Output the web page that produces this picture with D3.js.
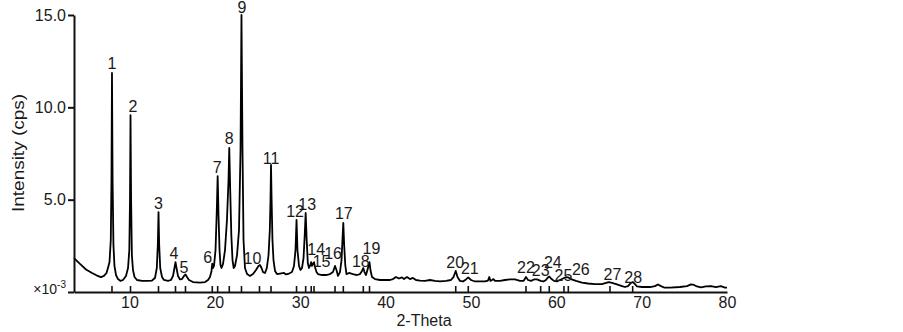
<!DOCTYPE html>
<html>
<head>
<meta charset="utf-8">
<script src="https://cdn.jsdelivr.net/npm/d3@7"></script>
<style>
body { margin: 0; background: #fff; }
text { font-family: "Liberation Sans", Arial, sans-serif; fill: #1a1a1a; }
</style>
</head>
<body>
<script>
// XRD trace: [2-theta, intensity (x1e-3 cps)]
const profile = [
  [3.50,1.84],[4.20,1.52],[4.91,1.22],[5.61,1.03],[6.19,0.89],[6.66,0.81],[7.01,0.87],[7.31,1.03],
  [7.54,1.41],[7.66,1.62],[7.81,2.82],[7.89,6.06],[7.95,11.86],[8.02,6.06],[8.12,2.55],[8.24,1.41],
  [8.42,0.92],[8.65,0.70],[8.95,0.60],[9.24,0.65],[9.59,0.87],[9.83,1.30],[9.98,2.27],[10.06,4.98],
  [10.12,9.58],[10.19,4.98],[10.28,2.00],[10.41,1.19],[10.59,0.81],[10.88,0.65],[11.47,0.60],[12.17,0.60],
  [12.64,0.62],[12.99,0.76],[13.20,1.30],[13.32,2.55],[13.40,4.33],[13.48,2.55],[13.60,1.30],[13.81,0.81],
  [14.04,0.65],[14.51,0.60],[14.86,0.65],[15.10,0.87],[15.27,1.30],[15.39,1.62],[15.51,1.30],[15.68,0.87],
  [15.92,0.68],[16.15,0.70],[16.39,0.87],[16.56,0.95],[16.74,0.81],[16.97,0.65],[17.44,0.54],[18.26,0.51],
  [18.85,0.54],[19.20,0.65],[19.43,0.81],[19.61,1.14],[19.70,1.54],[19.78,1.30],[19.90,1.41],[20.08,2.27],
  [20.23,4.44],[20.33,6.28],[20.43,4.17],[20.55,2.27],[20.66,1.46],[20.78,1.30],[20.96,1.52],[21.19,2.27],
  [21.42,3.90],[21.60,6.06],[21.69,7.80],[21.80,5.52],[21.93,3.09],[22.07,1.73],[22.21,1.30],[22.36,1.41],
  [22.60,2.00],[22.83,3.36],[23.01,7.69],[23.12,15.00],[23.24,7.69],[23.36,2.82],[23.53,1.30],[23.77,0.97],
  [24.12,0.87],[24.47,0.97],[24.82,1.19],[25.11,1.41],[25.29,1.46],[25.47,1.30],[25.64,1.08],[25.88,1.03],
  [26.09,1.30],[26.29,2.00],[26.44,3.36],[26.52,4.98],[26.58,6.88],[26.65,4.98],[26.75,2.82],[26.87,1.73],
  [27.05,1.14],[27.28,0.97],[27.63,1.00],[28.10,1.03],[28.34,0.95],[28.69,1.00],[29.04,1.08],[29.27,1.41],
  [29.45,2.27],[29.57,3.90],[29.68,2.27],[29.86,1.41],[30.03,1.19],[30.21,1.30],[30.39,1.84],[30.53,3.09],
  [30.64,4.28],[30.76,2.82],[30.89,1.57],[31.03,1.30],[31.18,1.46],[31.29,1.62],[31.38,1.41],[31.50,1.52],
  [31.62,1.62],[31.73,1.35],[31.91,1.08],[32.08,0.97],[32.55,0.92],[33.02,0.92],[33.49,0.97],[33.84,1.08],
  [34.08,1.41],[34.25,1.19],[34.43,0.87],[34.66,1.08],[34.84,1.73],[34.95,2.82],[35.05,3.74],[35.15,2.55],
  [35.28,1.46],[35.42,0.97],[35.72,1.03],[36.18,0.97],[36.65,0.92],[37.00,0.97],[37.24,1.14],[37.39,1.30],
  [37.53,1.08],[37.71,0.92],[37.94,1.30],[38.12,1.62],[38.23,1.19],[38.41,0.81],[38.76,0.70],[39.35,0.65],
  [40.05,0.65],[40.52,0.65],[40.87,0.70],[41.22,0.81],[41.57,0.73],[41.92,0.79],[42.16,0.70],[42.51,0.81],
  [42.86,0.70],[43.21,0.76],[43.56,0.65],[44.03,0.62],[44.62,0.60],[45.20,0.65],[45.79,0.60],[46.38,0.57],
  [47.08,0.60],[47.66,0.65],[47.96,0.81],[48.22,1.14],[48.43,0.81],[48.72,0.60],[49.07,0.57],[49.42,0.68],
  [49.69,0.79],[50.01,0.65],[50.48,0.57],[51.06,0.57],[51.65,0.57],[52.00,0.62],[52.15,0.81],[52.29,0.60],
  [52.47,0.65],[52.64,0.70],[52.82,0.60],[53.41,0.60],[53.99,0.65],[54.58,0.68],[55.17,0.68],[55.75,0.60],
  [56.16,0.60],[56.45,0.81],[56.69,0.65],[57.04,0.60],[57.39,0.68],[57.74,0.68],[58.17,0.60],[58.50,0.57],
  [58.79,0.65],[59.03,0.79],[59.18,0.84],[59.38,0.73],[59.73,0.60],[60.08,0.57],[60.43,0.65],[60.79,0.73],
  [61.14,0.81],[61.41,0.79],[61.72,0.70],[62.31,0.60],[63.01,0.51],[63.71,0.46],[64.53,0.43],[65.35,0.43],
  [65.82,0.49],[66.17,0.54],[66.52,0.49],[67.11,0.41],[67.70,0.32],[68.05,0.27],[68.40,0.32],[68.75,0.49],
  [68.99,0.54],[69.22,0.43],[69.46,0.30],[70.04,0.27],[70.98,0.27],[71.56,0.32],[71.91,0.41],[72.27,0.32],
  [72.62,0.24],[73.32,0.24],[74.49,0.27],[75.31,0.32],[75.78,0.41],[76.13,0.38],[76.48,0.30],[76.95,0.25],
  [77.53,0.30],[78.12,0.32],[78.70,0.27],[79.29,0.32],[79.76,0.24],[80.00,0.24]
]

// numbered reflections: position (2-theta) and peak top intensity
const peakNo  = d3.range(1, 29)
const peakPos = [7.95,10.12,13.40,15.39,16.56,19.70,20.33,21.69,23.12,25.23,26.58,29.57,30.64,31.29,
                 31.62,34.08,35.05,37.39,38.12,48.22,49.69,56.45,58.17,59.18,60.90,61.41,66.29,68.95]
const peakTop = [11.86,9.58,4.33,1.62,0.95,1.54,6.28,7.80,15.0,1.46,6.88,3.90,4.28,1.62,
                 1.62,1.41,3.74,1.30,1.62,1.14,0.79,0.81,0.68,0.84,0.73,0.79,0.54,0.54]

const xTicks = [10, 20, 30, 40, 50, 60, 70, 80]
const yTicks = [0, 5, 10, 15]

// hand nudges [dx, dy] so crowded labels don't collide
const nudge = [[0,-1],[2.5,0],[0,0],[-1.5,0],[-1.5,2],[-4.5,2],[-0.5,0],[0,-1],[0.5,1],[-7,2],
               [0,2],[-1.5,0],[1.5,0],[5,-4],[7.5,8],[-2,-4],[0.5,-1],[-2.5,2.5],[2,-5],[-0.5,0],
               [1.5,0],[0,-1.5],[0,0],[3.5,-5],[-0.5,5],[12.5,1],[2.5,0.7],[0.5,3.5]]

const w = 903, h = 332
const x = d3.scaleLinear().domain([3.5, 80]).range([74, 727])
const y = d3.scaleLinear().domain([0, 15]).range([292, 15])

const svg = d3.select("body").append("svg").attr("width", w).attr("height", h)

// peak markers sitting on the x axis
svg.append("g")
  .selectAll("line")
  .data(peakPos)
  .enter()
  .append("line")
  .attr("x1", d => x(d)).attr("x2", d => x(d))
  .attr("y1", y(0)).attr("y2", y(0) - 6)
  .attr("stroke", "#111")
  .attr("stroke-width", 1.6)

// the trace
const line = d3.line().x(d => x(d[0])).y(d => y(d[1]))
svg.append("path")
  .datum(profile)
  .attr("d", line)
  .attr("fill", "none")
  .attr("stroke", "#000")
  .attr("stroke-width", 1.8)
  .attr("stroke-linejoin", "round")

// axes
const gy = svg.append("g")
  .attr("transform", "translate(74,0)")
  .call(d3.axisLeft(y).tickValues(yTicks).tickSize(6).tickSizeOuter(0).tickPadding(2)
    .tickFormat(d => d ? d.toFixed(1) : ""))
const gx = svg.append("g")
  .attr("transform", "translate(0," + y(0) + ")")
  .call(d3.axisBottom(x).tickValues(xTicks).tickSize(0).tickSizeOuter(0).tickPadding(5))

for (const g of [gx, gy]) {
  g.attr("font-size", 16).attr("font-family", null)
  g.select(".domain").attr("stroke", "#111").attr("stroke-width", 2)
  g.selectAll(".tick line").attr("stroke", "#111").attr("stroke-width", 2)
  g.selectAll(".tick text").attr("fill", "#1a1a1a")
}

// x10^-3 unit at the zero tick
const unit = svg.append("text")
  .attr("x", 66).attr("y", 294)
  .attr("text-anchor", "end")
  .attr("font-size", 14)
unit.append("tspan").text("×10")
unit.append("tspan").attr("font-size", 10).attr("dy", -6).text("-3")

// axis titles
svg.append("text")
  .attr("transform", "translate(18,153) rotate(-90)")
  .attr("text-anchor", "middle")
  .attr("dy", "0.35em")
  .attr("font-size", 16)
  .attr("textLength", 118)
  .attr("lengthAdjust", "spacingAndGlyphs")
  .text("Intensity (cps)")

svg.append("text")
  .attr("x", 424).attr("y", 326)
  .attr("text-anchor", "middle")
  .attr("font-size", 16)
  .text("2-Theta")

// peak numbers
svg.append("g")
  .selectAll("text")
  .data(peakNo)
  .enter()
  .append("text")
  .attr("x", (d, i) => x(peakPos[i]) + nudge[i][0])
  .attr("y", (d, i) => y(peakTop[i]) - 3 + nudge[i][1])
  .attr("text-anchor", "middle")
  .attr("font-size", 16)
  .text(d => d)
</script>
</body>
</html>
